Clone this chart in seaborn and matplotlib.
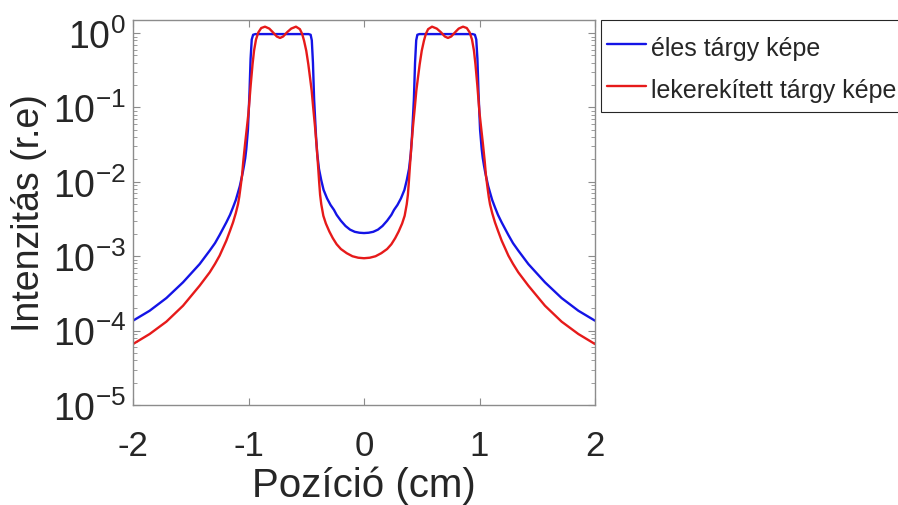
import numpy as np
import pandas as pd
import matplotlib
matplotlib.use("Agg")
import matplotlib.pyplot as plt
from matplotlib.patches import Rectangle
import seaborn as sns

# ---- data ----
blue_x = [-2.0, -1.856, -1.711, -1.567, -1.423, -1.336, -1.29, -1.25, -1.192, -1.16,
          -1.134, -1.11, -1.091, -1.075, -1.062, -1.05, -1.039, -1.028, -1.019, -1.005,
          -0.992, -0.982, -0.972, -0.96, -0.94, -0.8, -0.6, -0.48, -0.462, -0.452,
          -0.442, -0.432, -0.425, -0.415, -0.405, -0.39, -0.37, -0.35, -0.32, -0.29,
          -0.26, -0.237, -0.2, -0.16, -0.121, -0.08, -0.04, 0.0,
          0.04, 0.08, 0.121, 0.16, 0.2, 0.237, 0.26, 0.29, 0.32, 0.35,
          0.37, 0.39, 0.405, 0.415, 0.425, 0.432, 0.442, 0.452, 0.462, 0.48,
          0.6, 0.8, 0.94, 0.96, 0.972, 0.982, 0.992, 1.005, 1.019, 1.028,
          1.039, 1.05, 1.062, 1.075, 1.091, 1.11, 1.134, 1.16, 1.192, 1.25,
          1.29, 1.336, 1.423, 1.567, 1.711, 1.856, 2.0]
blue_y = [1.36e-4, 1.85e-4, 2.74e-4, 4.46e-4, 7.85e-4, 1.19e-3, 1.5e-3, 1.93e-3, 2.85e-3, 3.6e-3,
          4.54e-3, 5.7e-3, 7.2e-3, 8.8e-3, 1.09e-2, 1.33e-2, 1.65e-2, 2.1e-2, 2.76e-2, 0.05,
          0.15, 0.45, 0.82, 0.95, 0.97, 0.97, 0.97, 0.97, 0.95, 0.8,
          0.4, 0.13, 0.08, 0.04, 0.024, 0.015, 0.0105, 7.8e-3, 6.0e-3, 4.9e-3,
          4.2e-3, 3.6e-3, 3.0e-3, 2.55e-3, 2.28e-3, 2.13e-3, 2.07e-3, 2.05e-3,
          2.07e-3, 2.13e-3, 2.28e-3, 2.55e-3, 3.0e-3, 3.6e-3, 4.2e-3, 4.9e-3, 6.0e-3, 7.8e-3,
          0.0105, 0.015, 0.024, 0.04, 0.08, 0.13, 0.4, 0.8, 0.95, 0.97,
          0.97, 0.97, 0.97, 0.95, 0.82, 0.45, 0.15, 0.05, 2.76e-2, 2.1e-2,
          1.65e-2, 1.33e-2, 1.09e-2, 8.8e-3, 7.2e-3, 5.7e-3, 4.54e-3, 3.6e-3, 2.85e-3, 1.93e-3,
          1.5e-3, 1.19e-3, 7.85e-4, 4.46e-4, 2.74e-4, 1.85e-4, 1.36e-4]

red_x = [-2.0, -1.856, -1.711, -1.567, -1.423, -1.336, -1.29, -1.25, -1.192, -1.16,
         -1.134, -1.11, -1.091, -1.08, -1.071, -1.056, -1.045, -1.03, -1.015, -1.0,
         -0.981, -0.965, -0.952, -0.935, -0.915, -0.89, -0.857, -0.82, -0.79, -0.755,
         -0.727, -0.70, -0.665, -0.63, -0.589, -0.555, -0.535, -0.519, -0.50, -0.482,
         -0.467, -0.453, -0.44, -0.424, -0.41, -0.396, -0.388, -0.38, -0.37, -0.352,
         -0.33, -0.30, -0.27, -0.237, -0.20, -0.15, -0.10, -0.05, 0.0,
         0.05, 0.10, 0.15, 0.20, 0.237, 0.27, 0.30, 0.33, 0.352, 0.37,
         0.38, 0.388, 0.396, 0.41, 0.424, 0.44, 0.453, 0.467, 0.482, 0.50,
         0.519, 0.535, 0.555, 0.589, 0.63, 0.665, 0.70, 0.727, 0.755, 0.79,
         0.82, 0.857, 0.89, 0.915, 0.935, 0.952, 0.965, 0.981, 1.0, 1.015,
         1.03, 1.045, 1.056, 1.071, 1.08, 1.091, 1.11, 1.134, 1.16, 1.192,
         1.25, 1.29, 1.336, 1.423, 1.567, 1.711, 1.856, 2.0]
red_y = [6.6e-5, 9.0e-5, 1.32e-4, 2.16e-4, 4.02e-4, 6.07e-4, 7.9e-4, 1.02e-3, 1.62e-3, 2.2e-3,
         2.85e-3, 3.8e-3, 5.0e-3, 6.3e-3, 8.0e-3, 1.21e-2, 1.9e-2, 0.032, 0.052, 0.085,
         0.2, 0.38, 0.58, 0.82, 1.02, 1.17, 1.22, 1.15, 1.03, 0.9,
         0.86, 0.9, 1.03, 1.15, 1.22, 1.13, 0.97, 0.79, 0.58, 0.38,
         0.25, 0.168, 0.1, 0.055, 0.03, 0.015, 0.0098, 6.7e-3, 5.0e-3, 3.5e-3,
         2.75e-3, 2.15e-3, 1.75e-3, 1.45e-3, 1.25e-3, 1.1e-3, 1.0e-3, 9.55e-4, 9.4e-4,
         9.55e-4, 1.0e-3, 1.1e-3, 1.25e-3, 1.45e-3, 1.75e-3, 2.15e-3, 2.75e-3, 3.5e-3, 5.0e-3,
         6.7e-3, 0.0098, 0.015, 0.03, 0.055, 0.1, 0.168, 0.25, 0.38, 0.58,
         0.79, 0.97, 1.13, 1.22, 1.15, 1.03, 0.9, 0.86, 0.9, 1.03,
         1.15, 1.22, 1.17, 1.02, 0.82, 0.58, 0.38, 0.2, 0.085, 0.052,
         0.032, 1.9e-2, 1.21e-2, 8.0e-3, 6.3e-3, 5.0e-3, 3.8e-3, 2.85e-3, 2.2e-3, 1.62e-3,
         1.02e-3, 7.9e-4, 6.07e-4, 4.02e-4, 2.16e-4, 1.32e-4, 9.0e-5, 6.6e-5]

series_labels = ["éles tárgy képe", "lekerekített tárgy képe"]
x_ticks = [-2, -1, 0, 1, 2]
y_ticks = [1e-5, 1e-4, 1e-3, 1e-2, 1e-1, 1e0]
x_label = "Pozíció (cm)"
y_label = "Intenzitás (r.e)"

# ---- styling ----
sns.set_theme(style="white")
plt.rcParams["font.family"] = ["Liberation Sans", "DejaVu Sans"]
plt.rcParams["mathtext.fontset"] = "custom"
plt.rcParams["mathtext.rm"] = "Liberation Sans"
plt.rcParams["mathtext.it"] = "Liberation Sans:italic"
plt.rcParams["mathtext.bf"] = "Liberation Sans:bold"
plt.rcParams["axes.unicode_minus"] = False

text_color = "#262626"
spine_color = "#8c8c8c"

df = pd.concat([
    pd.DataFrame({"x": blue_x, "y": blue_y, "series": series_labels[0]}),
    pd.DataFrame({"x": red_x, "y": red_y, "series": series_labels[1]}),
], ignore_index=True)

W, H = 898, 506
fig = plt.figure(figsize=(W / 100, H / 100), dpi=100)
ax = fig.add_axes([133 / W, 1 - 406 / H, (595 - 133) / W, (406 - 21) / H])

sns.lineplot(data=df, x="x", y="y", hue="series", sort=False, estimator=None,
             palette=["#1414e6", "#e61a1a"], linewidth=1.7, ax=ax, legend=True)
for ln in ax.get_lines():
    ln.set_solid_joinstyle("round")

ax.set_yscale("log")
ax.set_xlim(-2, 2)
ax.set_ylim(1e-5, 1.5)
ax.set_xticks(x_ticks)
ax.set_xticklabels([str(t) for t in x_ticks])
ax.set_yticks(y_ticks)
ax.yaxis.set_minor_locator(matplotlib.ticker.LogLocator(base=10, subs=np.arange(2, 10), numticks=20))
ax.yaxis.set_minor_formatter(matplotlib.ticker.NullFormatter())

ax.tick_params(axis="both", which="both", direction="in", top=True, right=True,
               bottom=True, left=True, color=spine_color, labelcolor=text_color)
ax.tick_params(axis="both", which="major", length=5, width=0.8)
ax.tick_params(axis="x", which="major", pad=17, labelsize=25)
ax.tick_params(axis="y", which="major", pad=5, labelsize=27)
ax.tick_params(axis="y", which="minor", length=3, width=0.6)
for s in ax.spines.values():
    s.set_color(spine_color)
    s.set_linewidth(1.0)

ax.set_xlabel(x_label, fontsize=29, color=text_color, labelpad=3)
ax.set_ylabel(y_label, fontsize=27, color=text_color, labelpad=4)

# legend: frame drawn as a separate rectangle, entries placed inside it
handles, labels = ax.get_legend_handles_labels()
ax.get_legend().remove()
frame = Rectangle((601 / W, 1 - 113 / H), (W + 5 - 601) / W, (113 - 21) / H,
                  transform=fig.transFigure, facecolor="white",
                  edgecolor="#262626", linewidth=0.8, zorder=1)
fig.patches.append(frame)
leg = fig.legend(handles, labels, loc="upper left",
                 bbox_to_anchor=(601 / W, 1 - 27 / H), fontsize=18,
                 frameon=False, handlelength=1.55, handleheight=1.4,
                 handletextpad=0.2, labelspacing=0.52, borderpad=0.25,
                 borderaxespad=0.0)
leg.set_zorder(2)
for t in leg.get_texts():
    t.set_color(text_color)

fig.savefig("out.png", dpi=100)
